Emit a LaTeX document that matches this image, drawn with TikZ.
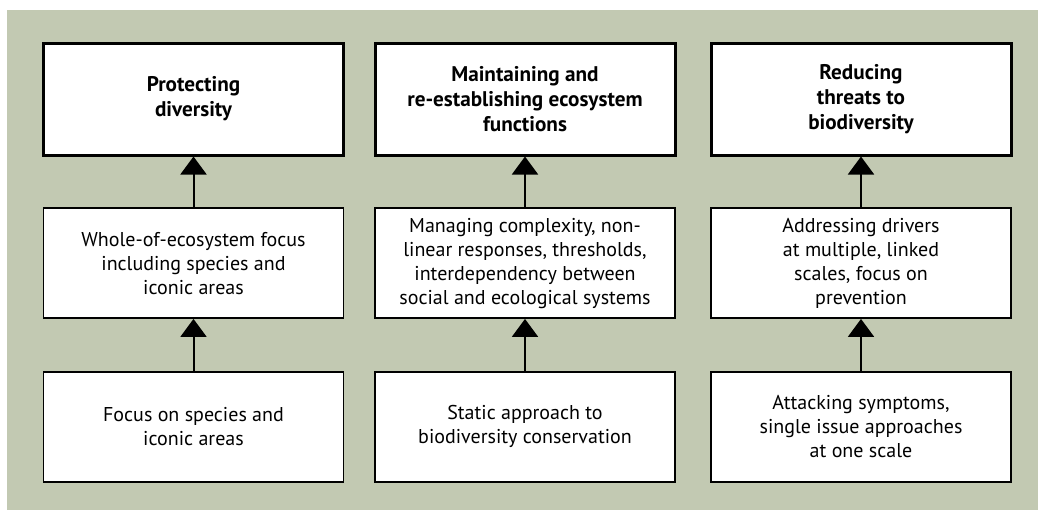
\documentclass[tikz,border=0pt]{standalone}
\usepackage{fontspec}
\setmainfont{PT Sans}
\usepackage{xcolor}
\definecolor{panelgreen}{RGB}{194,201,178}
\usetikzlibrary{positioning}
\usetikzlibrary{arrows.meta}

\begin{document}
\begin{tikzpicture}[x=0.5pt,y=-0.5pt,->,draw=black]
		\tikzstyle{goal}=[rectangle, draw=black, fill=white, line width=1.5pt, minimum width=150pt, minimum height=56pt, inner sep=0pt, align=center, font=\fontsize{10.6}{12.5}\selectfont\bfseries]
		\tikzstyle{stage}=[rectangle, draw=black, fill=white, line width=0.8pt, minimum width=150pt, minimum height=55pt, inner sep=0pt, align=center]
		\tikzset{>={Triangle[width=13pt,length=9pt]}}
		\useasboundingbox (0,0) rectangle (1038,511);
		\fill[panelgreen] (7,10) rectangle (1038,510);
		% top row: goals
		\node[goal] (goal1) at (193.5,99) {Protecting\\diversity};
		\node[goal, right=14.25pt of goal1] (goal2) {Maintaining and\\re-establishing ecosystem\\functions};
		\node[goal, right=16.5pt of goal2] (goal3) {Reducing\\threats to\\biodiversity};
		% middle row
		\node[stage, below=25.4pt of goal1] (new1) {Whole-of-ecosystem focus\\including species and\\iconic areas};
		\node[stage, below=25.4pt of goal2] (new2) {Managing complexity, non-\\linear responses, thresholds,\\interdependency between\\social and ecological systems};
		\node[stage, below=25.4pt of goal3] (new3) {Addressing drivers\\at multiple, linked\\scales, focus on\\prevention};
		% bottom row
		\node[stage, below=26pt of new1] (old1) {Focus on species and\\iconic areas};
		\node[stage, below=26pt of new2] (old2) {Static approach to\\biodiversity conservation};
		\node[stage, below=26pt of new3] (old3) {Attacking symptoms,\\single issue approaches\\at one scale};
		\path (new1) edge[line width=1pt] (goal1);
		\path (new2) edge[line width=1pt] (goal2);
		\path (new3) edge[line width=1pt] (goal3);
		\path (old1) edge[line width=1pt] (new1);
		\path (old2) edge[line width=1pt] (new2);
		\path (old3) edge[line width=1pt] (new3);
	\end{tikzpicture}
\end{document}
